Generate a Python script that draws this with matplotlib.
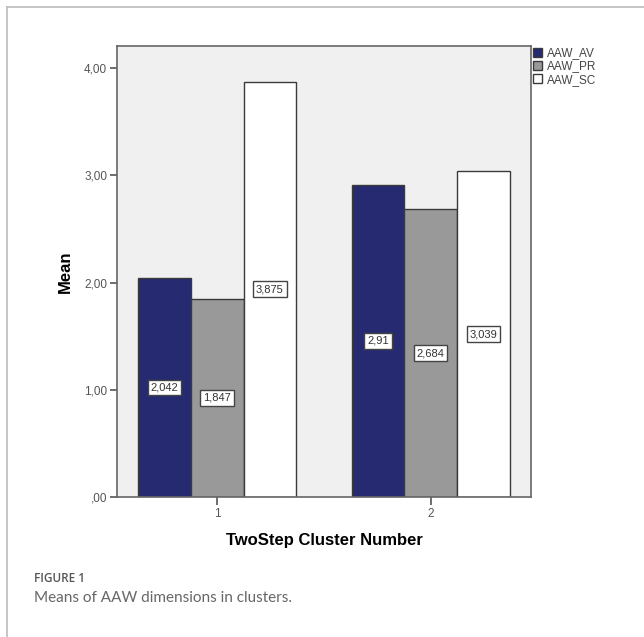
import matplotlib.pyplot as plt
import numpy as np
from matplotlib.lines import Line2D

# means per cluster
clusters = ['1', '2']
series = ['AAW_AV', 'AAW_PR', 'AAW_SC']
av = [2.042, 2.91]
pr = [1.847, 2.684]
sc = [3.875, 3.039]
av_lbl = ['2,042', '2,91']
pr_lbl = ['1,847', '2,684']
sc_lbl = ['3,875', '3,039']
yticks = [0, 1, 2, 3, 4]
ytick_lbl = [',00', '1,00', '2,00', '3,00', '4,00']

colors = ['#262a70', '#999999', '#ffffff']

plt.rcParams['font.family'] = ['Liberation Sans', 'DejaVu Sans']

fig = plt.figure(figsize=(6.44, 6.37), dpi=100)
ax = fig.add_axes([117/644, 1-497/637, 414/644, 451.4/637])
ax.set_facecolor('#f0f0f0')

x = np.arange(1, len(clusters) + 1)
w = 0.247
for i, (vals, lbls) in enumerate([(av, av_lbl), (pr, pr_lbl), (sc, sc_lbl)]):
    pos = x + (i - 1) * w
    ax.bar(pos, vals, width=w, color=colors[i], edgecolor='#3a3a3a',
           linewidth=1.0, label=series[i], zorder=2)
    for p, v, t in zip(pos, vals, lbls):
        ax.text(p, v / 2, t, ha='center', va='center', fontsize=8, color='#333333',
                bbox=dict(boxstyle='square,pad=0.25', fc='white', ec='#444444', lw=1.0),
                zorder=3)

ax.set_xlim(0.531, 2.47)
ax.set_ylim(0, 4.21)
ax.set_xticks(x)
ax.set_xticklabels(clusters)
ax.set_yticks(yticks)
ax.set_yticklabels(ytick_lbl)
ax.tick_params(axis='both', labelsize=8.5, colors='#555555', length=5, width=1.2, pad=2)
ax.tick_params(axis='x', length=6)
for s in ax.spines.values():
    s.set_color('#666666')
    s.set_linewidth(1.2)

ax.set_ylabel('Mean', fontsize=12, fontweight='bold', labelpad=8)
ax.set_xlabel('TwoStep Cluster Number', fontsize=12, fontweight='bold', labelpad=9)

leg = ax.legend(loc='upper left', bbox_to_anchor=(1.0, 1.0), frameon=False,
                fontsize=8.5, handlelength=0.75, handleheight=0.75, handletextpad=0.45,
                labelspacing=0.1, borderaxespad=0.15, borderpad=0.0)
for t in leg.get_texts():
    t.set_color('#444444')

# outer frame
fig.add_artist(Line2D([7/644, 1], [1-7/637, 1-7/637], color='#bbbbbb', lw=1.2))
fig.add_artist(Line2D([7/644, 7/644], [0, 1-7/637], color='#bbbbbb', lw=1.2))

fig.text(34/644, 1-578/637, 'FIGURE 1', fontsize=8.5, color='#555555',
         family=['Open Sans', 'DejaVu Sans'], fontweight='semibold', va='center')
fig.text(34/644, 1-598/637, 'Means of AAW dimensions in clusters.', fontsize=11,
         color='#666666', family=['Lato', 'DejaVu Sans'], va='center')

fig.savefig('out.png', dpi=100)
